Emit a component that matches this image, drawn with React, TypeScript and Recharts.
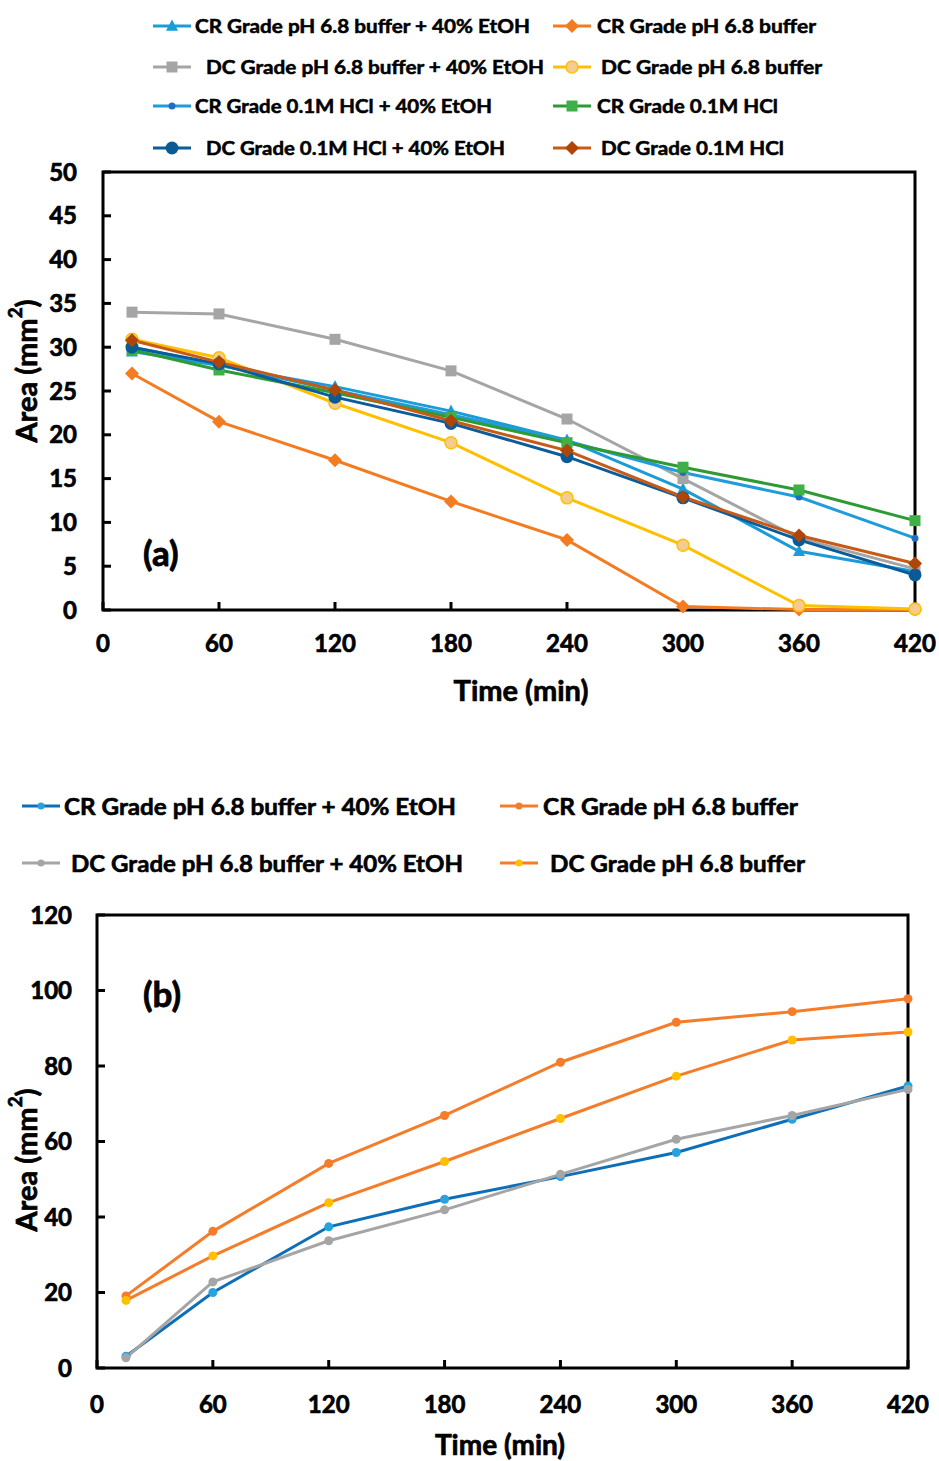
import React from 'react'
import { LineChart, Line, XAxis, YAxis, ReferenceArea, Label } from 'recharts'

// sampling times (min)
const TIME = [15, 60, 120, 180, 240, 300, 360, 420]
const X_TICKS = [0, 60, 120, 180, 240, 300, 360, 420]
const Y_TICKS_A = [0, 5, 10, 15, 20, 25, 30, 35, 40, 45, 50]
const Y_TICKS_B = [0, 20, 40, 60, 80, 100, 120]

// (a) area, mm2
const A_CR_BUF_ETOH = [29.5, 27.9, 25.5, 22.7, 19.4, 13.8, 6.7, 4.4]
const A_CR_BUF = [27.0, 21.5, 17.1, 12.4, 8.0, 0.4, 0.05, 0.05]
const A_DC_BUF_ETOH = [34.0, 33.8, 30.9, 27.3, 21.8, 15.0, 8.2, 4.7]
const A_DC_BUF = [30.9, 28.8, 23.6, 19.1, 12.8, 7.4, 0.5, 0.1]
const A_CR_HCL_ETOH = [30.0, 28.0, 25.1, 22.3, 19.3, 15.7, 12.9, 8.2]
const A_CR_HCL = [29.7, 27.4, 24.8, 22.0, 19.1, 16.3, 13.7, 10.2]
const A_DC_HCL_ETOH = [30.0, 28.1, 24.3, 21.3, 17.5, 12.8, 8.0, 4.0]
const A_DC_HCL = [30.8, 28.3, 25.1, 21.6, 18.2, 12.9, 8.5, 5.3]

// (b) area, mm2
const B_CR_BUF_ETOH = [3.1, 20.0, 37.4, 44.7, 50.7, 57.1, 65.9, 74.7]
const B_CR_BUF = [19.1, 36.2, 54.2, 66.9, 81.0, 91.6, 94.4, 97.8]
const B_DC_BUF_ETOH = [2.7, 22.8, 33.7, 41.9, 51.3, 60.6, 66.9, 73.8]
const B_DC_BUF = [17.9, 29.7, 43.8, 54.7, 66.1, 77.3, 86.9, 89.0]

const LABELS_A = [
  'CR Grade pH 6.8 buffer + 40% EtOH',
  'CR Grade pH 6.8 buffer',
  'DC Grade pH 6.8 buffer + 40% EtOH',
  'DC Grade pH 6.8 buffer',
  'CR Grade 0.1M HCl + 40% EtOH',
  'CR Grade 0.1M HCl',
  'DC Grade 0.1M HCl + 40% EtOH',
  'DC Grade 0.1M  HCl',
]
const LABELS_B = [
  'CR Grade pH 6.8 buffer + 40% EtOH',
  'CR Grade pH 6.8 buffer',
  'DC Grade  pH 6.8 buffer + 40% EtOH',
  'DC Grade pH 6.8 buffer',
]

type Shape = 'triangle' | 'diamond' | 'square' | 'circle'

type Series = {
  key: string
  label: string
  values: number[]
  line: string
  fill: string
  stroke?: string
  shape: Shape
  size: number
}

const SERIES_A: Series[] = [
  { key: 'a1', label: LABELS_A[0], values: A_CR_BUF_ETOH, line: '#1B9BD7', fill: '#1B9BD7', shape: 'triangle', size: 12 },
  { key: 'a2', label: LABELS_A[1], values: A_CR_BUF, line: '#F47C20', fill: '#F47C20', shape: 'diamond', size: 14 },
  { key: 'a3', label: LABELS_A[2], values: A_DC_BUF_ETOH, line: '#A5A5A5', fill: '#A5A5A5', shape: 'square', size: 11 },
  { key: 'a4', label: LABELS_A[3], values: A_DC_BUF, line: '#FFC000', fill: '#F5CC90', stroke: '#FFC000', shape: 'circle', size: 12 },
  { key: 'a5', label: LABELS_A[4], values: A_CR_HCL_ETOH, line: '#1F9CDB', fill: '#1E6FC4', shape: 'circle', size: 7 },
  { key: 'a6', label: LABELS_A[5], values: A_CR_HCL, line: '#2F9A34', fill: '#3DB04A', shape: 'square', size: 11 },
  { key: 'a7', label: LABELS_A[6], values: A_DC_HCL_ETOH, line: '#0B5C9A', fill: '#0A5A96', shape: 'circle', size: 13 },
  { key: 'a8', label: LABELS_A[7], values: A_DC_HCL, line: '#C65A16', fill: '#AF4608', shape: 'diamond', size: 14 },
]

const SERIES_B: Series[] = [
  { key: 'b1', label: LABELS_B[0], values: B_CR_BUF_ETOH, line: '#0E6FB8', fill: '#29A3DD', shape: 'circle', size: 9 },
  { key: 'b2', label: LABELS_B[1], values: B_CR_BUF, line: '#F57D2A', fill: '#F57D2A', shape: 'circle', size: 9 },
  { key: 'b3', label: LABELS_B[2], values: B_DC_BUF_ETOH, line: '#A5A5A5', fill: '#A5A5A5', shape: 'circle', size: 9 },
  { key: 'b4', label: LABELS_B[3], values: B_DC_BUF, line: '#F57D2A', fill: '#FFC000', shape: 'circle', size: 9 },
]

const toRows = (series: Series[]) =>
  TIME.map((t, i) => {
    const row: Record<string, number> = { t }
    series.forEach(s => (row[s.key] = s.values[i]))
    return row
  })

const rowsA = toRows(SERIES_A)
const rowsB = toRows(SERIES_B)

const FONT = 'Lato, "Open Sans", sans-serif'

function Marker({ cx, cy, s }: { cx: number; cy: number; s: Series }) {
  const h = s.size / 2
  if (s.shape === 'triangle')
    return <polygon points={`${cx},${cy - h * 1.1} ${cx + h},${cy + h * 0.8} ${cx - h},${cy + h * 0.8}`} fill={s.fill} />
  if (s.shape === 'diamond')
    return <polygon points={`${cx},${cy - h} ${cx + h},${cy} ${cx},${cy + h} ${cx - h},${cy}`} fill={s.fill} />
  if (s.shape === 'square')
    return <rect x={cx - h} y={cy - h} width={s.size} height={s.size} fill={s.fill} />
  return <circle cx={cx} cy={cy} r={h} fill={s.fill} stroke={s.stroke} strokeWidth={s.stroke ? 1.5 : 0} />
}

function AreaTitle({ x, y, size }: { x: number; y: number; size: number }) {
  return (
    <text
      x={x}
      y={y}
      transform={`rotate(-90, ${x}, ${y})`}
      textAnchor="middle"
      dominantBaseline="central"
      fontFamily={FONT}
      fontWeight={700}
      fontSize={size}
      fill="#000"
      stroke="#000"
      strokeWidth={0.7}
    >
      <tspan>Area (mm</tspan>
      <tspan dy={-size * 0.38} fontSize={size * 0.65}>2</tspan>
      <tspan dy={size * 0.38}>)</tspan>
    </text>
  )
}

function TimeTitle({ x, y, size }: { x: number; y: number; size: number }) {
  return (
    <text
      x={x}
      y={y}
      textAnchor="middle"
      dominantBaseline="central"
      fontFamily={FONT}
      fontWeight={700}
      fontSize={size}
      fill="#000"
      stroke="#000"
      strokeWidth={0.7}
    >
      Time (min)
    </text>
  )
}

function renderLines(series: Series[]) {
  return series.map(s => (
    <Line
      key={s.key}
      type="linear"
      dataKey={s.key}
      stroke={s.line}
      strokeWidth={3}
      dot={(p: any) => (
        <g key={`${s.key}-${p.index}`}>
          <Marker cx={p.cx} cy={p.cy} s={s} />
        </g>
      )}
      activeDot={false}
      isAnimationActive={false}
    />
  ))
}

const tickStyle = { fill: '#000', fontSize: 24, fontWeight: 700, fontFamily: FONT, stroke: '#000', strokeWidth: 0.7 }
const tickLine = { stroke: '#000', strokeWidth: 3 }

// legend layout
const LEG_A_ICON_X = [153, 553]
const LEG_A_ROW_Y = [26, 67, 106, 148]
const LEG_A_TEXT_X = [195, 597, 206, 601, 195, 597, 206, 601]
const LEG_A_TEXT_W = [335, 219, 338, 221, 297, 181, 299, 183]

const LEG_B_ICON_X = [22, 500]
const LEG_B_ROW_Y = [806, 863]
const LEG_B_TEXT_X = [64, 543, 71, 550]
const LEG_B_TEXT_W = [392, 255, 392, 255]

function LegendLayer() {
  return (
    <svg width={939} height={1461} style={{ position: 'absolute', left: 0, top: 0, pointerEvents: 'none' }}>
      {SERIES_A.map((s, i) => {
        const x = LEG_A_ICON_X[i % 2]
        const y = LEG_A_ROW_Y[Math.floor(i / 2)]
        return (
          <g key={s.key}>
            <line x1={x} x2={x + 38} y1={y} y2={y} stroke={s.line} strokeWidth={3} />
            <Marker cx={x + 19} cy={y} s={s} />
            <text
              x={LEG_A_TEXT_X[i]}
              y={y}
              dominantBaseline="central"
              fontFamily={FONT}
              fontWeight={700}
              fontSize={18}
              textLength={LEG_A_TEXT_W[i]}
              lengthAdjust="spacingAndGlyphs"
              fill="#000"
              stroke="#000"
              strokeWidth={0.5}
            >
              {s.label}
            </text>
          </g>
        )
      })}
      {SERIES_B.map((s, i) => {
        const x = LEG_B_ICON_X[i % 2]
        const y = LEG_B_ROW_Y[Math.floor(i / 2)]
        return (
          <g key={s.key}>
            <line x1={x} x2={x + 38} y1={y} y2={y} stroke={s.line} strokeWidth={3} />
            <Marker cx={x + 19} cy={y} s={{ ...s, size: 7 }} />
            <text
              x={LEG_B_TEXT_X[i]}
              y={y}
              dominantBaseline="central"
              fontFamily={FONT}
              fontWeight={700}
              fontSize={23}
              textLength={LEG_B_TEXT_W[i]}
              lengthAdjust="spacingAndGlyphs"
              fill="#000"
              stroke="#000"
              strokeWidth={0.6}
            >
              {s.label}
            </text>
          </g>
        )
      })}
      <text x={143} y={552} dominantBaseline="central" fontFamily={FONT} fontWeight={700} fontSize={35} fill="#000" stroke="#000" strokeWidth={0.8}>
        (a)
      </text>
      <text x={143} y={993} dominantBaseline="central" fontFamily={FONT} fontWeight={700} fontSize={35} fill="#000" stroke="#000" strokeWidth={0.8}>
        (b)
      </text>
    </svg>
  )
}

export default function App() {
  return (
    <div style={{ position: 'absolute', left: 0, top: 0, width: 939, height: 1461, background: '#fff' }}>
      <div style={{ position: 'absolute', left: 0, top: 0 }}>
        <LineChart width={939} height={720} data={rowsA} margin={{ top: 172, right: 24, bottom: 50, left: 23 }}>
          <XAxis
            dataKey="t"
            type="number"
            domain={[0, 420]}
            ticks={X_TICKS}
            interval={0}
            height={60}
            tickSize={-8}
            tickMargin={33}
            tick={tickStyle}
            tickLine={tickLine}
            axisLine={false}
          >
            <Label content={() => <TimeTitle x={521} y={689} size={29} />} />
          </XAxis>
          <YAxis
            type="number"
            domain={[0, 50]}
            ticks={Y_TICKS_A}
            interval={0}
            width={80}
            tickSize={-8}
            tickMargin={34}
            tick={tickStyle}
            tickLine={tickLine}
            axisLine={false}
          >
            <Label content={() => <AreaTitle x={25} y={371} size={29} />} />
          </YAxis>
          <ReferenceArea x1={0} x2={420} y1={0} y2={50} fill="none" stroke="#000" strokeWidth={3} />
          {renderLines(SERIES_A)}
        </LineChart>
      </div>
      <div style={{ position: 'absolute', left: 0, top: 740 }}>
        <LineChart width={939} height={721} data={rowsB} margin={{ top: 175, right: 31, bottom: 33, left: 17 }}>
          <XAxis
            dataKey="t"
            type="number"
            domain={[0, 420]}
            ticks={X_TICKS}
            interval={0}
            height={60}
            tickSize={-8}
            tickMargin={36}
            tick={tickStyle}
            tickLine={tickLine}
            axisLine={false}
          >
            <Label content={() => <TimeTitle x={500} y={704} size={28} />} />
          </XAxis>
          <YAxis
            type="number"
            domain={[0, 120]}
            ticks={Y_TICKS_B}
            interval={0}
            width={80}
            tickSize={-8}
            tickMargin={33}
            tick={tickStyle}
            tickLine={tickLine}
            axisLine={false}
          >
            <Label content={() => <AreaTitle x={25} y={420} size={29} />} />
          </YAxis>
          <ReferenceArea x1={0} x2={420} y1={0} y2={120} fill="none" stroke="#000" strokeWidth={3} />
          {renderLines(SERIES_B)}
        </LineChart>
      </div>
      <LegendLayer />
    </div>
  )
}
